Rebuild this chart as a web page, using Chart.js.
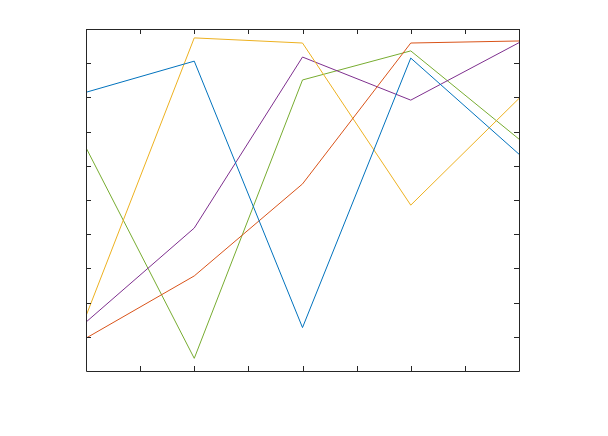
<!DOCTYPE html>
<html>
<head>
<meta charset="utf-8">
<script src="https://cdn.jsdelivr.net/npm/chart.js@4/dist/chart.umd.min.js"></script>
<style>
  html, body { margin: 0; padding: 0; background: #ffffff; }
  canvas { display: block; }
</style>
</head>
<body>
<canvas id="chart" width="608" height="436"></canvas>
<script>
// data
const xValues = [1, 2, 3, 4, 5];
const seriesBlue = [0.815, 0.906, 0.127, 0.915, 0.634];
const seriesOrange = [0.096, 0.278, 0.547, 0.959, 0.965];
const seriesYellow = [0.161, 0.974, 0.959, 0.485, 0.797];
const seriesPurple = [0.143, 0.418, 0.918, 0.792, 0.960];
const seriesGreen = [0.653, 0.037, 0.851, 0.936, 0.678];
const xTicks = [1, 1.5, 2, 2.5, 3, 3.5, 4, 4.5, 5];
const yTicks = [0.1, 0.2, 0.3, 0.4, 0.5, 0.6, 0.7, 0.8, 0.9];

const colors = ["#0072BD", "#D95319", "#EDB120", "#7E2F8E", "#77AC30"];
const allSeries = [seriesBlue, seriesOrange, seriesYellow, seriesPurple, seriesGreen];

function toPoints(values) {
  return values.map((v, i) => ({ x: xValues[i], y: v }));
}

// box with inward ticks, like the matlab axes
const axesBox = {
  id: "axesBox",
  afterDraw(chart) {
    const ctx = chart.ctx;
    const a = chart.chartArea;
    const xs = chart.scales.x;
    const ys = chart.scales.y;
    const len = 5;
    ctx.save();
    ctx.strokeStyle = "#262626";
    ctx.lineWidth = 1;
    ctx.beginPath();
    ctx.rect(Math.round(a.left) + 0.5, Math.round(a.top) + 0.5,
      Math.round(a.right - a.left), Math.round(a.bottom - a.top));
    xTicks.forEach((t) => {
      const px = Math.round(xs.getPixelForValue(t)) + 0.5;
      ctx.moveTo(px, a.bottom);
      ctx.lineTo(px, a.bottom - len);
      ctx.moveTo(px, a.top);
      ctx.lineTo(px, a.top + len);
    });
    yTicks.forEach((t) => {
      const py = Math.round(ys.getPixelForValue(t)) + 0.5;
      ctx.moveTo(a.left, py);
      ctx.lineTo(a.left + len, py);
      ctx.moveTo(a.right, py);
      ctx.lineTo(a.right - len, py);
    });
    ctx.stroke();
    ctx.restore();
  },
};

new Chart(document.getElementById("chart"), {
  type: "line",
  data: {
    datasets: allSeries.map((s, i) => ({
      data: toPoints(s),
      borderColor: colors[i],
      borderWidth: 1,
      pointRadius: 0,
      tension: 0,
      fill: false,
    })),
  },
  options: {
    responsive: false,
    animation: false,
    layout: { padding: { left: 86, right: 89, top: 29, bottom: 65 } },
    plugins: { legend: { display: false }, tooltip: { enabled: false } },
    scales: {
      x: { type: "linear", min: 1, max: 5, display: false },
      y: { type: "linear", min: 0, max: 1, display: false },
    },
  },
  plugins: [axesBox],
});
</script>
</body>
</html>
